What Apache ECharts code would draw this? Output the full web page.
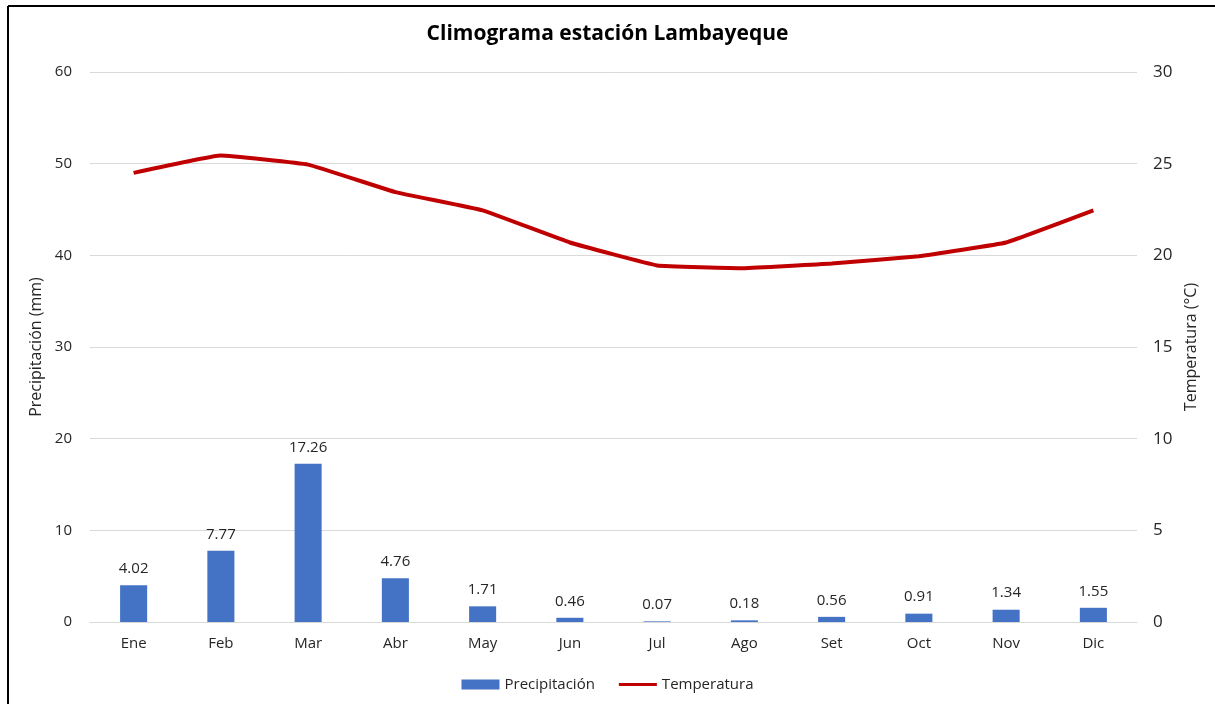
<!DOCTYPE html>
<html>
<head>
<meta charset="utf-8">
<script src="https://cdn.jsdelivr.net/npm/echarts@6/dist/echarts.min.js"></script>
<style>
html,body{margin:0;padding:0;background:#fff;}
#chart{width:1215px;height:704px;}
</style>
</head>
<body>
<div id="chart"></div>
<script>
// datos del climograma
var meses = ['Ene','Feb','Mar','Abr','May','Jun','Jul','Ago','Set','Oct','Nov','Dic'];
var precipitacion = [4.02,7.77,17.26,4.76,1.71,0.46,0.07,0.18,0.56,0.91,1.34,1.55];
var temperatura = [24.5,25.45,24.95,23.45,22.45,20.7,19.45,19.3,19.55,19.95,20.7,22.45];
var ticksPrec = [0,10,20,30,40,50,60];
var ticksTemp = [0,5,10,15,20,25,30];

var fuente = 'Open Sans, Liberation Sans, sans-serif';
var gris = '#262626';
var myChart = echarts.init(document.getElementById('chart'));
var option = {
	backgroundColor:'#fff',
	animation:false,
	title:{
		text:'Climograma estación Lambayeque',
		left:'center',top:19,
		textStyle:{fontFamily:fuente,fontSize:21,fontWeight:'bold',color:'#000'}
	},
	legend:{
		bottom:7,left:'center',itemGap:24,
		textStyle:{fontFamily:fuente,fontSize:15,color:gris},
		data:[
			{name:'Precipitación',icon:'rect'},
			{name:'Temperatura',icon:'path://M0,0 L40,0 L40,3 L0,3 Z'}
		],
		itemWidth:38,itemHeight:10
	},
	grid:{left:90,right:78,top:72,bottom:82},
	xAxis:[{
		type:'category',
		data:meses,
		axisLine:{lineStyle:{color:'#d9d9d9',width:1}},
		axisTick:{show:false},
		axisLabel:{fontFamily:fuente,fontSize:15,color:gris,margin:14}
	}],
	yAxis:[{
		type:'value',min:ticksPrec[0],max:ticksPrec[ticksPrec.length-1],interval:10,
		name:'Precipitación (mm)',nameLocation:'middle',nameGap:42,nameRotate:90,
		nameTextStyle:{fontFamily:fuente,fontSize:16,color:gris},
		axisLine:{show:false},axisTick:{show:false},
		axisLabel:{fontFamily:fuente,fontSize:15,color:gris,margin:18},
		splitLine:{lineStyle:{color:'#d9d9d9',width:1}}
	},{
		type:'value',min:ticksTemp[0],max:ticksTemp[ticksTemp.length-1],interval:5,
		position:'right',
		name:'Temperatura (°C)',nameLocation:'middle',nameGap:44,nameRotate:90,
		nameTextStyle:{fontFamily:fuente,fontSize:16,color:gris},
		axisLine:{show:false},axisTick:{show:false},
		axisLabel:{fontFamily:fuente,fontSize:17,color:gris,margin:16,padding:[0,0,12,0]},
		splitLine:{show:false}
	}],
	series:[{
		name:'Precipitación',type:'bar',
		barWidth:'31%',
		itemStyle:{color:'#4472c4'},
		label:{show:true,position:'top',distance:9,fontFamily:fuente,fontSize:15,color:gris,
			formatter:function(p){return p.value.toFixed(2);}},
		data:precipitacion
	},{
		name:'Temperatura',type:'line',yAxisIndex:1,
		symbol:'none',smooth:0.08,
		lineStyle:{color:'#c00000',width:4},
		itemStyle:{color:'#c00000'},
		data:temperatura
	}],
	graphic:[
		{type:'line',shape:{x1:8,y1:6,x2:1215,y2:6},style:{stroke:'#000',lineWidth:2}},
		{type:'line',shape:{x1:8,y1:6,x2:8,y2:704},style:{stroke:'#000',lineWidth:2}}
	]
};
myChart.setOption(option);
</script>
</body>
</html>
